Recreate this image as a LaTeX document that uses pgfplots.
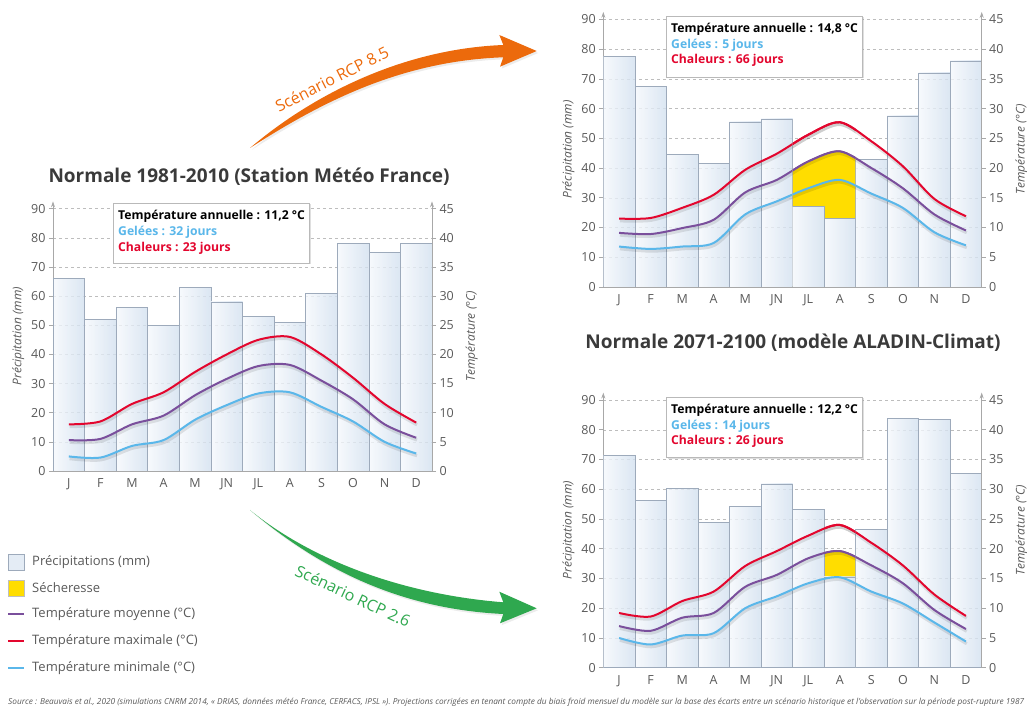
\documentclass[border=0pt]{standalone}
\usepackage{fontspec}
\setmainfont{Open Sans}
\usepackage{graphicx}
\usepackage{pgfplots}
\pgfplotsset{compat=1.18}
\usepackage{pgfplotstable}
\usetikzlibrary{arrows.meta,shadows}

\definecolor{cRed}{HTML}{E3062E}
\definecolor{cPurple}{HTML}{7A4F9C}
\definecolor{cBlue}{HTML}{5AB7EA}
\definecolor{cYellow}{HTML}{FFDD00}
\definecolor{cOrange}{HTML}{EC6A0C}
\definecolor{cGreen}{HTML}{2FA84F}
\definecolor{cTick}{HTML}{595959}
\definecolor{cTitle}{HTML}{3A3A3A}
\definecolor{cAxis}{HTML}{A8A8A8}
\definecolor{cGrid}{HTML}{BDBDBD}
\definecolor{cBarEdge}{HTML}{9DAABB}
\definecolor{cBarL}{HTML}{F5F8FC}
\definecolor{cBarR}{HTML}{D2E0EF}

% 1981-2010
\pgfplotstableread{
x p tmax tmoy tmin
0 66 8 5.3 2.5
1 52 8.5 5.5 2.3
2 56 11.5 8 4.3
3 50 13.5 9.5 5.3
4 63 17 13 8.8
5 58 20 15.8 11.3
6 53 22.5 18 13.3
7 51 23 18.2 13.5
8 61 20 15.5 11
9 78 16 12.3 8.5
10 75 11.5 8 5
11 78 8.3 5.7 3
}\dataA
% RCP 8.5
\pgfplotstableread{
x p tmax tmoy tmin
0 77.5 11.5 9.1 6.8
1 67.5 11.6 8.9 6.4
2 44.5 13.3 9.9 6.8
3 41.5 15.5 11.3 7.4
4 55.5 19.7 15.9 12.2
5 56.5 22.4 18 14.4
6 27 25.6 21.1 16.6
7 23 27.7 22.8 18
8 43 24.5 20 15.7
9 57.5 20.3 16.6 13.3
10 72 14.8 12.2 9.2
11 76 11.9 9.5 7
}\dataB
% RCP 2.6
\pgfplotstableread{
x p tmax tmoy tmin
0 71.5 9.2 7 5
1 56.3 8.6 6.2 3.9
2 60.3 11.2 8.4 5.4
3 48.9 12.8 9.2 5.8
4 54.3 17.1 13.6 10
5 61.8 19.6 15.6 12
6 53.3 22.2 18.4 14.2
7 30.5 24 19.6 15.2
8 46.4 21 17.2 12.8
9 83.9 17.2 14.2 10.8
10 83.5 12.3 9.7 7.6
11 65.2 8.7 6.5 4.4
}\dataC

\pgfplotsset{
  clim/.style={
    scale only axis, anchor=south west,
    xmin=-0.5, xmax=11.5, ymin=0, ymax=92.5,
    axis x line=bottom, axis y line=left,
    axis line style={draw=cAxis, line width=0.8pt},
    x axis line style={-},
    y axis line style={-{Stealth[length=6pt,width=4pt]}},
    xtick={0,...,11}, xticklabels={J,F,M,A,M,JN,JL,A,S,O,N,D},
    xtick style={draw=none},
    ytick={0,10,...,90},
    tick align=outside, major tick length=4pt,
    ytick style={draw=cAxis, line width=0.6pt},
    ymajorgrids, grid style={dashed, cGrid, line width=0.5pt},
    tick label style={font=\fontsize{12.5}{14}\selectfont, text=cTick},
    /pgf/number format/assume math mode=true,
    ylabel={Précipitation (mm)},
    ylabel style={font=\itshape\fontsize{12}{14}\selectfont, text=cTick},
  },
  climR/.style={
    scale only axis, anchor=south west,
    xmin=-0.5, xmax=11.5, ymin=0, ymax=46.25,
    axis x line=none, axis y line=right,
    axis line style={draw=cAxis, line width=0.8pt},
    y axis line style={-{Stealth[length=6pt,width=4pt]}},
    ytick={0,5,...,45},
    tick align=outside, major tick length=4pt,
    ytick style={draw=cAxis, line width=0.6pt},
    tick label style={font=\fontsize{12.5}{14}\selectfont, text=cTick},
    /pgf/number format/assume math mode=true,
    ylabel={Température (°C)},
    ylabel style={font=\itshape\fontsize{12}{14}\selectfont, text=cTick, yshift=-5pt},
  },
  dry/.style={scale only axis, anchor=south west, hide axis, ymin=0, ymax=92.5},
  bars/.style={ybar, bar width=1, bar shift=0pt, draw=cBarEdge, line width=0.6pt,
     left color=cBarL, right color=cBarR, fill opacity=0.8},
  tline/.style={smooth, line width=2pt},
  tshadow/.style={smooth, line width=3.2pt, black, opacity=0.10, yshift=-2.2pt, xshift=0.8pt},
}

% bars drawn one by one (so that each bar has its own shading)
\newcommand{\precipbars}[1]{%
  \pgfplotsinvokeforeach{0,...,11}{\addplot[bars, restrict x to domain=##1:##1] table[x=x,y=p]{#1};}%
}
\newcommand{\tempcurves}[1]{%
  \addplot[tshadow] table[x=x,y expr=2*\thisrow{tmin}]{#1};
  \addplot[tshadow] table[x=x,y expr=2*\thisrow{tmoy}]{#1};
  \addplot[tshadow] table[x=x,y expr=2*\thisrow{tmax}]{#1};
  \addplot[tline, cBlue] table[x=x,y expr=2*\thisrow{tmin}]{#1};
  \addplot[tline, cPurple] table[x=x,y expr=2*\thisrow{tmoy}]{#1};
  \addplot[tline, cRed] table[x=x,y expr=2*\thisrow{tmax}]{#1};
}

\begin{document}
\begin{tikzpicture}
\useasboundingbox (0,0) rectangle (1027pt,709pt);

% ---------- Chart 1 : 1981-2010 ----------
\begin{axis}[clim, at={(53pt,238pt)}, width=379pt, height=269.6pt]
\precipbars{\dataA}
\tempcurves{\dataA}
\end{axis}
\begin{axis}[climR, at={(53pt,238pt)}, width=379pt, height=269.6pt]
\addplot[draw=none] coordinates {(0,0)};
\end{axis}

% ---------- Chart 2 : RCP 8.5 ----------
\begin{axis}[clim, at={(603.3pt,422pt)}, width=378.4pt, height=275.1pt]
\precipbars{\dataB}
\tempcurves{\dataB}
\end{axis}
% drought months JL-A (overlay clipped to these two months)
\begin{axis}[dry, at={(792.5pt,422pt)}, width=63.07pt, height=275.1pt, xmin=5.5, xmax=7.5]
\addplot[smooth, draw=none, fill=cYellow] table[x=x,y expr=2*\thisrow{tmoy}]{\dataB} \closedcycle;
\addplot[ybar, bar width=1, bar shift=0pt, draw=none, fill=white] table[x=x,y=p]{\dataB};
\precipbars{\dataB}
\tempcurves{\dataB}
\end{axis}
\begin{axis}[climR, at={(603.3pt,422pt)}, width=378.4pt, height=275.1pt]
\addplot[draw=none] coordinates {(0,0)};
\end{axis}

% ---------- Chart 3 : RCP 2.6 ----------
\begin{axis}[clim, at={(603.3pt,41.3pt)}, width=378.4pt, height=275.1pt]
\precipbars{\dataC}
\tempcurves{\dataC}
\end{axis}
% drought month A (overlay clipped to this month)
\begin{axis}[dry, at={(824.03pt,41.3pt)}, width=31.53pt, height=275.1pt, xmin=6.5, xmax=7.5]
\addplot[smooth, draw=none, fill=cYellow] table[x=x,y expr=2*\thisrow{tmoy}]{\dataC} \closedcycle;
\addplot[ybar, bar width=1, bar shift=0pt, draw=none, fill=white] table[x=x,y=p]{\dataC};
\precipbars{\dataC}
\tempcurves{\dataC}
\end{axis}
\begin{axis}[climR, at={(603.3pt,41.3pt)}, width=378.4pt, height=275.1pt]
\addplot[draw=none] coordinates {(0,0)};
\end{axis}

% ---------- Titles ----------
\node[font=\bfseries\fontsize{19}{22}\selectfont, text=cTitle] at (249pt,532pt) {Normale 1981-2010 (Station Météo France)};
\node[font=\bfseries\fontsize{19}{22}\selectfont, text=cTitle] at (793pt,366pt) {Normale 2071-2100 (modèle ALADIN-Climat)};

% ---------- Info boxes ----------
\tikzset{ibox/.style={draw=gray!55, fill=white, line width=0.6pt, drop shadow={opacity=0.25, shadow xshift=1.5pt, shadow yshift=-1.5pt}},
         itxt/.style={anchor=west, font=\bfseries\fontsize{12.2}{14}\selectfont, inner sep=0pt}}
\path[ibox] (113pt,446pt) rectangle (309pt,506pt);
\node[itxt, text=black] at (118pt,493pt) {Température annuelle : 11,2 °C};
\node[itxt, text=cBlue] at (118pt,477pt) {Gelées : 32 jours};
\node[itxt, text=cRed] at (118pt,461pt) {Chaleurs : 23 jours};

\path[ibox] (666.7pt,632pt) rectangle (862.7pt,693pt);
\node[itxt, text=black] at (671pt,680pt) {Température annuelle : 14,8 °C};
\node[itxt, text=cBlue] at (671pt,664pt) {Gelées : 5 jours};
\node[itxt, text=cRed] at (671pt,648.3pt) {Chaleurs : 66 jours};

\path[ibox] (666.7pt,251.3pt) rectangle (862.7pt,312pt);
\node[itxt, text=black] at (671pt,299pt) {Température annuelle : 12,2 °C};
\node[itxt, text=cBlue] at (671pt,283pt) {Gelées : 14 jours};
\node[itxt, text=cRed] at (671pt,267.3pt) {Chaleurs : 26 jours};

% ---------- Scenario arrows ----------
\fill[cOrange, drop shadow={opacity=0.15, shadow xshift=1.5pt, shadow yshift=-2pt}]
  (250pt,561pt) .. controls (310pt,612pt) and (400pt,660pt) .. (503.3pt,664pt)
  -- (499.3pt,674pt) -- (536.7pt,658pt) -- (500pt,642.3pt) -- (503.3pt,651.7pt)
  .. controls (400pt,648pt) and (320pt,606pt) .. cycle;
\node[rotate=27, text=cOrange, font=\fontsize{16}{18}\selectfont] at (332pt,630pt) {Scénario RCP 8.5};

\fill[cGreen, drop shadow={opacity=0.15, shadow xshift=1.5pt, shadow yshift=-2pt}]
  (250pt,199pt) .. controls (310pt,150pt) and (400pt,115pt) .. (503.3pt,106.7pt)
  -- (499.3pt,117.3pt) -- (536.7pt,100.7pt) -- (500pt,85.7pt) -- (503.3pt,95pt)
  .. controls (400pt,100pt) and (320pt,140pt) .. cycle;
\node[rotate=-25, text=cGreen, font=\fontsize{16}{18}\selectfont] at (353pt,113pt) {Scénario RCP 2.6};

% ---------- Legend ----------
\tikzset{ltxt/.style={anchor=west, text=cTick, font=\fontsize{13}{15}\selectfont, inner sep=0pt}}
\path[draw=cBarEdge, fill=cBarR!60, line width=0.6pt] (8pt,139pt) rectangle (24pt,155pt);
\node[ltxt] at (32pt,147pt) {Précipitations (mm)};
\path[draw=gray!50, fill=cYellow, line width=0.6pt] (8pt,113pt) rectangle (24pt,129pt);
\node[ltxt] at (32pt,121pt) {Sécheresse};
\draw[cPurple, line width=2pt] (8pt,95pt) -- (24pt,95pt);
\node[ltxt] at (32pt,95pt) {Température moyenne (°C)};
\draw[cRed, line width=2pt] (8pt,68pt) -- (24pt,68pt);
\node[ltxt] at (32pt,68pt) {Température maximale (°C)};
\draw[cBlue, line width=2pt] (8pt,41pt) -- (24pt,41pt);
\node[ltxt] at (32pt,41pt) {Température minimale (°C)};

% ---------- Source ----------
\node[anchor=west, inner sep=0pt, text=cTick] at (8pt,7pt) {\resizebox{1016pt}{!}{\itshape Source : Beauvais et al., 2020 (simulations CNRM 2014, « DRIAS, données météo France, CERFACS, IPSL »). Projections corrigées en tenant compte du biais froid mensuel du modèle sur la base des écarts entre un scénario historique et l'observation sur la période post-rupture 1987}};
\end{tikzpicture}
\end{document}
